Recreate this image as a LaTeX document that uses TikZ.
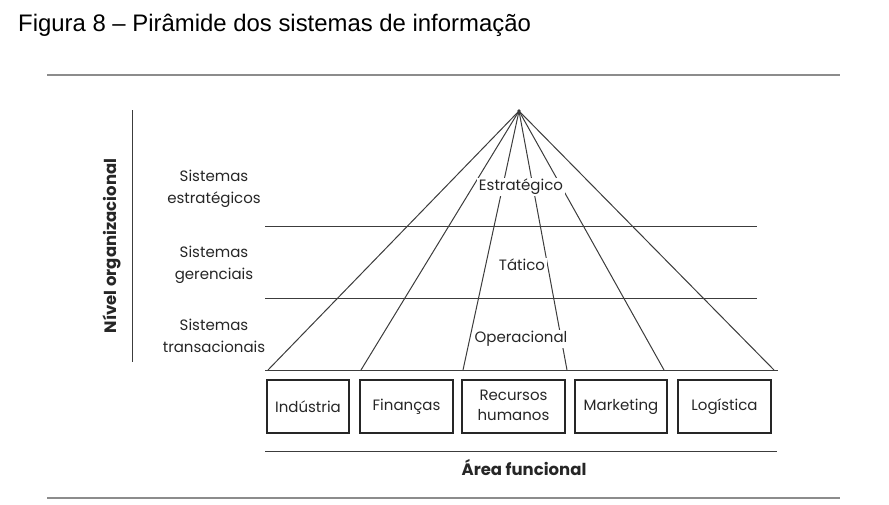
\documentclass[tikz,border=0pt]{standalone}
\usepackage{fontspec}
\setmainfont{Liberation Sans}
\newfontfamily\geo{Poppins}
\definecolor{ln}{RGB}{60,60,60}
\definecolor{rule}{RGB}{140,140,140}
\tikzset{
  lbl/.style={font=\geo\fontsize{15}{21.5}\selectfont, text=black!85, align=center, inner sep=1pt},
  lvl/.style={font=\geo\fontsize{15}{18}\selectfont, text=black!85, fill=white, inner sep=1.5pt},
  area/.style={draw=black!85, line width=1.4pt, minimum height=53pt, font=\geo\fontsize{15}{21}\selectfont, text=black!85, align=center, inner sep=0pt},
  ray/.style={draw=ln, line width=1pt},
  hline/.style={draw=ln, line width=1pt},
  bar/.style={draw=rule, line width=1.4pt}
}
\begin{document}
\begin{tikzpicture}[x=1pt,y=-1pt]
\useasboundingbox (0,0) rectangle (889,504);
% title
\node[anchor=base west, font=\fontsize{23.9}{26}\selectfont, inner sep=0pt] (title) at (18,31) {Figura 8 -- Pirâmide dos sistemas de informação};
% outer rules
\coordinate (t1) at (47,75); \coordinate (t2) at (840,75);
\coordinate (b1) at (47,498); \coordinate (b2) at (840,498);
\draw[bar] (t1) -- (t2);
\draw[bar] (b1) -- (b2);
% vertical axis
\coordinate (v1) at (132,110); \coordinate (v2) at (132,362);
\draw[hline] (v1) -- (v2);
\node[rotate=90, font=\geo\bfseries\fontsize{16.5}{18}\selectfont, text=black!85] (nivel) at (112,246) {Nível organizacional};
% apex and feet
\coordinate (apex) at (519,111);
\coordinate (f1) at (268,370);
\coordinate (f2) at (361,370);
\coordinate (f3) at (463,370);
\coordinate (f4) at (567,370);
\coordinate (f5) at (664,370);
\coordinate (f6) at (774,370);
% horizontal levels
\coordinate (h1a) at (265,226); \coordinate (h1b) at (757,226);
\coordinate (h2a) at (265,298); \coordinate (h2b) at (757,298);
\coordinate (h3a) at (265,370); \coordinate (h3b) at (778,370);
\draw[hline] (h1a) -- (h1b);
\draw[hline] (h2a) -- (h2b);
\draw[hline] (h3a) -- (h3b);
\foreach \f in {f1,f2,f3,f4,f5,f6} \draw[ray] (apex) -- (\f);
\fill[ln] (apex) circle (1.8pt);
% level labels
\node[lvl] (estr) at (521,187) {Estratégico};
\node[lvl] (tat) at (522,265) {Tático};
\node[lvl] (oper) at (521,339) {Operacional};
% left labels
\node[lbl] (s1) at (214,189) {Sistemas\\estratégicos};
\node[lbl] (s2) at (214,265) {Sistemas\\gerenciais};
\node[lbl] (s3) at (214,336) {Sistemas\\transacionais};
% boxes
\node[area, minimum width=82pt] (ind) at (308,406.5) {\raisebox{-1.5pt}{Indústria}};
\node[area, minimum width=93pt] (fin) at (406.5,406.5) {\raisebox{-1.5pt}{Finanças}};
\node[area, minimum width=103pt] (rh) at (513.5,406.5) {\raisebox{-1pt}{\begin{tabular}{@{}c@{}}Recursos\\[-0.5pt]humanos\end{tabular}}};
\node[area, minimum width=92pt] (mkt) at (621,406.5) {\raisebox{-1.5pt}{Marketing}};
\node[area, minimum width=93pt] (log) at (724.5,406.5) {\raisebox{-1.5pt}{Logística}};
% bottom line
\coordinate (u1) at (265,451); \coordinate (u2) at (777,451);
\draw[hline] (u1) -- (u2);
\node[font=\geo\bfseries\fontsize{16.5}{18}\selectfont, text=black!85] (area) at (524,468) {Área funcional};
\end{tikzpicture}
\end{document}
